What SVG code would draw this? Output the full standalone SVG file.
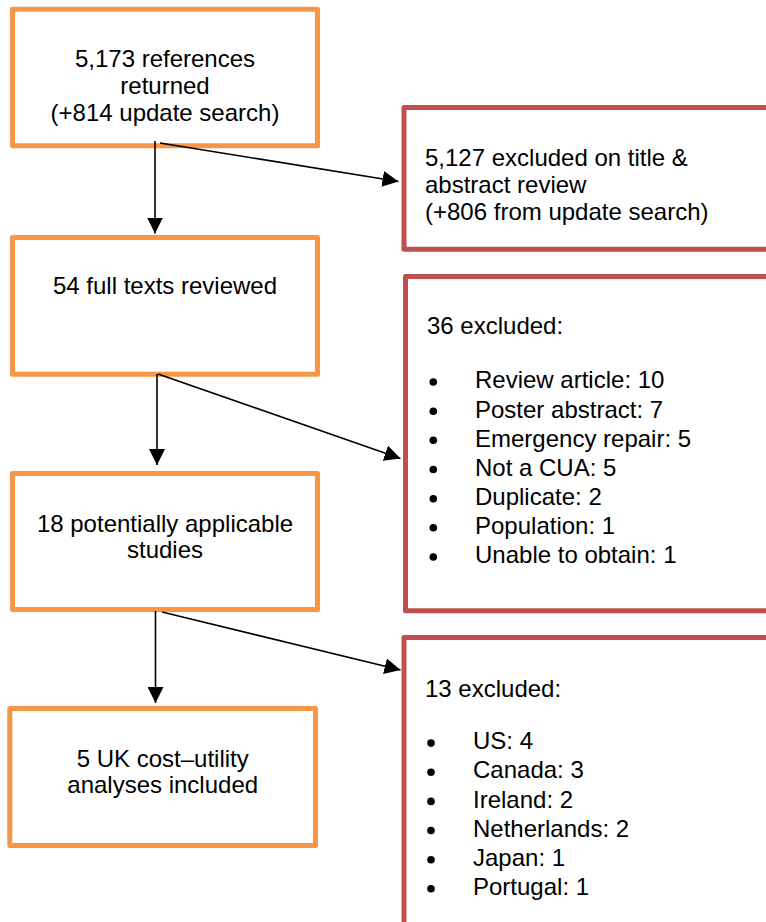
<svg xmlns="http://www.w3.org/2000/svg" width="766" height="922" viewBox="0 0 766 922">
<style>
.ob{fill:#fff;stroke:#F79646;stroke-width:5;stroke-linejoin:round}
.rb{fill:#fff;stroke:#C0504D;stroke-width:5;stroke-linejoin:round}
text{font-family:"Liberation Sans",Arial,sans-serif;font-size:24px;fill:#000}
.c{text-anchor:middle}
.bl{fill:#000}
.ln{stroke:#000;stroke-width:1.6;fill:none;marker-end:url(#ah)}
</style>
<defs>
<marker id="ah" markerUnits="userSpaceOnUse" markerWidth="16" markerHeight="16" refX="16" refY="8" orient="auto">
<path d="M0,0 L16,8 L0,16 Z" fill="#000"/>
</marker>
</defs>
<rect width="766" height="922" fill="#fff"/>
<g id="n1">
<rect class="ob" x="12.5" y="9.3" width="305" height="136.5"/>
<text class="c" x="165" y="66.5">5,173 references</text>
<text class="c" x="165" y="93.5">returned</text>
<text class="c" x="165" y="120.5">(+814 update search)</text>
</g>
<g id="n2">
<rect class="ob" x="12.5" y="237.5" width="305" height="136.7"/>
<text class="c" x="165" y="294">54 full texts reviewed</text>
</g>
<g id="n3">
<rect class="ob" x="12.5" y="473.5" width="305" height="136"/>
<text class="c" x="165" y="531.7">18 potentially applicable</text>
<text class="c" x="165" y="558.3">studies</text>
</g>
<g id="n4">
<rect class="ob" x="9.8" y="708.5" width="305.7" height="137"/>
<text class="c" x="162.7" y="766.7">5 UK cost–utility</text>
<text class="c" x="162.7" y="793.3">analyses included</text>
</g>
<g id="r1">
<rect class="rb" x="404" y="107.5" width="420" height="141.7"/>
<text x="425" y="166">5,127 excluded on title &amp;</text>
<text x="425" y="193">abstract review</text>
<text x="425" y="220">(+806 from update search)</text>
</g>
<g id="r2">
<rect class="rb" x="405.5" y="276.6" width="420" height="334.2"/>
<text x="427" y="334">36 excluded:</text>
<g class="bl">
<circle cx="433.3" cy="382" r="3.8"/>
<circle cx="433.3" cy="411.2" r="3.8"/>
<circle cx="433.3" cy="440.3" r="3.8"/>
<circle cx="433.3" cy="469.5" r="3.8"/>
<circle cx="433.3" cy="498.7" r="3.8"/>
<circle cx="433.3" cy="527.8" r="3.8"/>
<circle cx="433.3" cy="557" r="3.8"/>
</g>
<text x="475" y="388.3">Review article: 10</text>
<text x="475" y="417.5">Poster abstract: 7</text>
<text x="475" y="446.6">Emergency repair: 5</text>
<text x="475" y="475.8">Not a CUA: 5</text>
<text x="475" y="505">Duplicate: 2</text>
<text x="475" y="534.1">Population: 1</text>
<text x="475" y="563.3">Unable to obtain: 1</text>
</g>
<g id="r3">
<rect class="rb" x="404" y="637.5" width="420" height="320"/>
<text x="425" y="696.7">13 excluded:</text>
<g class="bl">
<circle cx="431" cy="743.1" r="3.8"/>
<circle cx="431" cy="772.2" r="3.8"/>
<circle cx="431" cy="801.4" r="3.8"/>
<circle cx="431" cy="830.5" r="3.8"/>
<circle cx="431" cy="859.7" r="3.8"/>
<circle cx="431" cy="888.8" r="3.8"/>
</g>
<text x="473" y="749.3">US: 4</text>
<text x="473" y="778.4">Canada: 3</text>
<text x="473" y="807.6">Ireland: 2</text>
<text x="473" y="836.7">Netherlands: 2</text>
<text x="473" y="865.9">Japan: 1</text>
<text x="473" y="895">Portugal: 1</text>
</g>
<g id="connectors">
<line class="ln" x1="155" y1="141" x2="155" y2="233.5"/>
<line class="ln" x1="160" y1="143" x2="398.5" y2="181.5"/>
<line class="ln" x1="157" y1="374" x2="157" y2="465"/>
<line class="ln" x1="158" y1="374" x2="400.5" y2="458.5"/>
<line class="ln" x1="155.5" y1="611" x2="155.5" y2="703"/>
<line class="ln" x1="162" y1="612" x2="400.5" y2="670"/>
</g>
</svg>
